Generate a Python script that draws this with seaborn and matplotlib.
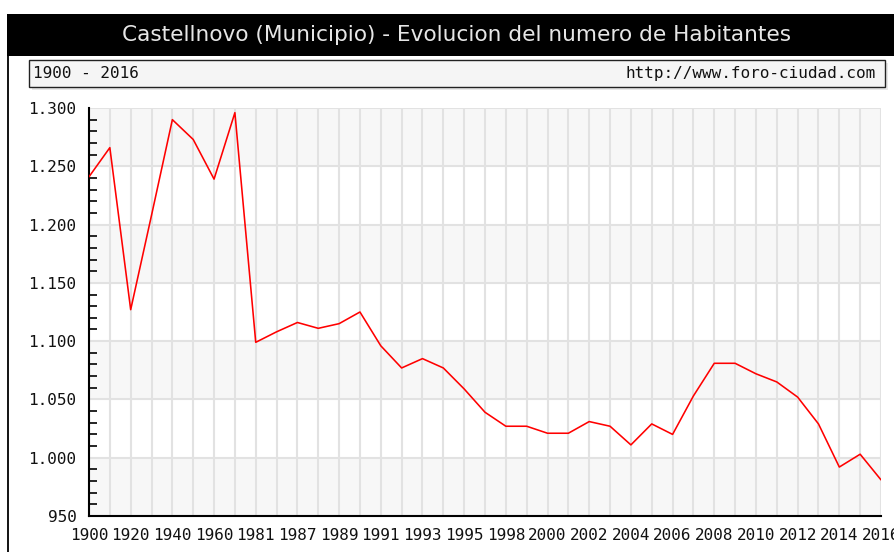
import numpy as np
import pandas as pd
import matplotlib
matplotlib.use('Agg')
import matplotlib.pyplot as plt
import seaborn as sns
from matplotlib.ticker import FuncFormatter, MultipleLocator
from matplotlib.patches import Rectangle
from matplotlib.lines import Line2D

# Data
anios = ['1900', '1910', '1920', '1930', '1940', '1950', '1960', '1970', '1981',
         '1986', '1987', '1988', '1989', '1990', '1991', '1992', '1993', '1994',
         '1995', '1996', '1998', '1999', '2000', '2001', '2002', '2003', '2004',
         '2005', '2006', '2007', '2008', '2009', '2010', '2011', '2012', '2013',
         '2014', '2015', '2016']
habitantes = [1241, 1266, 1127, 1208, 1290, 1273, 1239, 1296, 1099,
              1108, 1116, 1111, 1115, 1125, 1096, 1077, 1085, 1077,
              1059, 1039, 1027, 1027, 1021, 1021, 1031, 1027, 1011,
              1029, 1020, 1053, 1081, 1081, 1072, 1065, 1052, 1029,
              992, 1003, 981]

titulo = 'Castellnovo (Municipio) - Evolucion del numero de Habitantes'
periodo = '1900 - 2016'
web = 'http://www.foro-ciudad.com'

df = pd.DataFrame({'anio': anios, 'habitantes': habitantes})

sns.set_style('white')
plt.rcParams['font.family'] = ['DejaVu Sans']

W, H = 894, 552
fig = plt.figure(figsize=(W / 100, H / 100), dpi=100)
ax = fig.add_axes([89 / W, 36 / H, 792 / W, 408 / H])

# alternating background bands
for lo in range(950, 1300, 100):
    ax.axhspan(lo, lo + 50, color='#f7f7f7', zorder=0, lw=0)

sns.lineplot(data=df, x='anio', y='habitantes', color='red', lw=1.15,
             sort=False, ax=ax, zorder=3)

ax.set_xlim(0, len(anios) - 1)
ax.set_ylim(950, 1300)
ax.set_xticks(range(len(anios)))
ax.set_xticklabels([a if i % 2 == 0 else '' for i, a in enumerate(anios)])
ax.set_yticks(range(950, 1301, 50))
ax.yaxis.set_major_formatter(FuncFormatter(lambda v, p: f'{v:,.0f}'.replace(',', '.')))
ax.yaxis.set_minor_locator(MultipleLocator(10))

ax.grid(True, color='#e2e2e2', lw=1.5, zorder=1)
ax.set_axisbelow(True)
ax.set_xlabel('')
ax.set_ylabel('')

mono = 'DejaVu Sans Mono'
ax.tick_params(axis='both', which='major', direction='in', length=8, width=1.2,
               color='black', labelcolor='#111111', labelsize=11.5, pad=9)
ax.tick_params(axis='y', which='minor', direction='in', length=6, width=1.2,
               color='black', left=True)
for lab in ax.get_xticklabels() + ax.get_yticklabels():
    lab.set_family(mono)

for s in ['top', 'right']:
    ax.spines[s].set_visible(False)
for s in ['left', 'bottom']:
    ax.spines[s].set_color('black')
    ax.spines[s].set_linewidth(1.5)

# header bar, frame line, subtitle box
fig.add_artist(Rectangle((7 / W, 1 - 56 / H), 887 / W, 42 / H,
                         transform=fig.transFigure, color='black', lw=0))
fig.add_artist(Line2D([7.5 / W, 7.5 / W], [0, 1 - 56 / H],
                      transform=fig.transFigure, color='black', lw=1.3))
fig.add_artist(Rectangle((32 / W, 1 - 90 / H), 856 / W, 27 / H,
                         transform=fig.transFigure, facecolor='#e8e8e8', lw=0))
fig.add_artist(Rectangle((29 / W, 1 - 87 / H), 856 / W, 27 / H,
                         transform=fig.transFigure, facecolor='#f5f5f5',
                         edgecolor='#222222', lw=1))

fig.text(456 / W, 1 - 35 / H, titulo, color='#e6e6e6', ha='center',
         va='center', fontsize=15.6)
fig.text(33 / W, 1 - 73.5 / H, periodo, ha='left', va='center',
         fontsize=11.5, family=mono, color='#111111')
fig.text(876 / W, 1 - 73.5 / H, web, ha='right', va='center',
         fontsize=11.5, family=mono, color='#111111')

fig.savefig('out.png', dpi=100)
